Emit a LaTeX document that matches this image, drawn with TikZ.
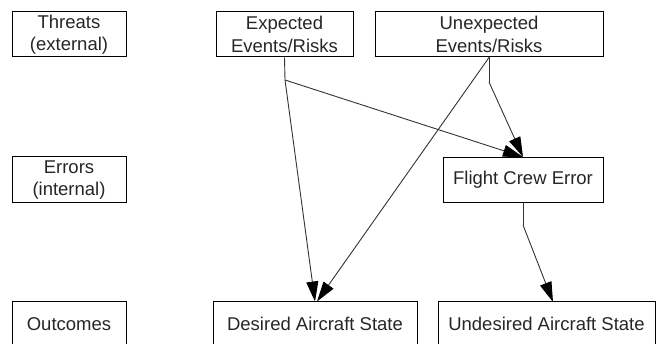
\documentclass[tikz,border=0pt]{standalone}
\usepackage{fontspec}
\setmainfont{Liberation Sans}
\usetikzlibrary{arrows.meta}
\begin{document}
\begin{tikzpicture}[x=1pt,y=-1pt,
  box/.style={draw, line width=1pt, inner sep=0pt, align=center,
    font=\fontsize{18.5}{22.5}\selectfont, text=black!85},
  conn/.style={line width=0.9pt, black!80},
  arr/.style={conn, -{Triangle[length=20pt,width=12pt,black]}}]
\useasboundingbox (0,0) rectangle (657,344);
\clip (0,0) rectangle (657,344);
\node[box, minimum width=114pt, minimum height=45pt] (threats) at (69,34.5) {Threats\\(external)};
\node[box, minimum width=137pt, minimum height=45pt] (exp) at (284.5,34.5) {Expected\\Events/Risks};
\node[box, minimum width=228pt, minimum height=45pt] (unexp) at (489,34.5) {Unexpected\\Events/Risks};
\node[box, minimum width=114pt, minimum height=46pt] (errors) at (69,180) {Errors\\(internal)};
\node[box, minimum width=160pt, minimum height=45pt] (fce) at (523,180) {Flight Crew Error};
\node[box, minimum width=114pt, minimum height=44pt] (outc) at (69,324) {Outcomes};
\node[box, minimum width=204pt, minimum height=44pt] (des) at (315,324) {Desired Aircraft State};
\node[box, minimum width=217pt, minimum height=44pt] (undes) at (546.5,324) {Undesired Aircraft State};
\coordinate (e1) at (285,80);
\coordinate (u1) at (489,82);
\coordinate (f1) at (523,225);
\coordinate (utip) at (553,302);
\draw[conn] (exp.south) -- (e1);
\draw[arr] (e1) -- (des.north);
\draw[arr] (e1) -- (fce.north);
\draw[conn] (unexp.south) -- (u1);
\draw[arr] (u1) -- (fce.north);
\draw[arr] (unexp.south) -- ([xshift=2pt]des.north);
\draw[conn] (fce.south) -- (f1);
\draw[arr] (f1) -- (utip);
\end{tikzpicture}
\end{document}
